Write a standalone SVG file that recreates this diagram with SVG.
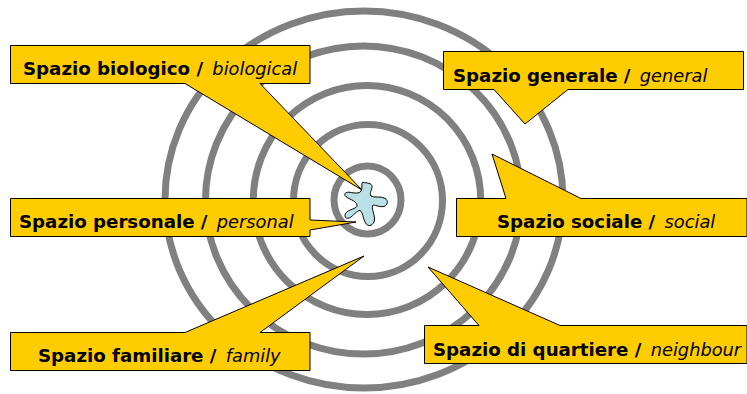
<svg xmlns="http://www.w3.org/2000/svg" width="747" height="394" viewBox="0 0 747 394">
<style>
.ring{fill:none;stroke:#808080;stroke-width:7}
.box{fill:#ffcc00;stroke:#000;stroke-width:1;stroke-linejoin:miter}
text{font-family:"DejaVu Sans",Verdana,sans-serif;font-size:18.2px;fill:#000}
.b{font-weight:bold}
.i{font-style:italic;font-size:17.8px}
</style>
<rect width="747" height="394" fill="#fff"/>
<g id="rings">
<ellipse class="ring" cx="364" cy="199.500" rx="199" ry="188.500"/>
<ellipse class="ring" cx="363.500" cy="200" rx="158" ry="154"/>
<ellipse class="ring" cx="367" cy="200" rx="113.700" ry="114.500"/>
<ellipse class="ring" cx="368" cy="200.500" rx="74.500" ry="76"/>
<ellipse class="ring" cx="367.500" cy="200" rx="33.500" ry="34"/>
</g>
<g id="nucleus"><path d="M362.500 182.300C367 183 372 183 372 186.500C372 190 369 193 371 196C374 198 381 196 385 198.300C388.500 200.500 388 205 384 206.500C379 207.500 374 204 372.500 205.500C371.500 210 376 217 374 222C372 226 368 227 365.500 223C363 219 363 212 360 210.500C357 210.500 353 216 349.500 218C346 219 344 217 345.500 213.500C348 209 358 209 357 205C356 200 347 199 345 195.500C344 192.500 347 192 350 192.300C354 193 359.500 194 361 191C363 187 361 184 362.500 182.300Z" fill="#b9e0e5" stroke="#000" stroke-width="1"/></g>
<g id="spazio-biologico"><path class="box" d="M10.500 45.500H310V83.500H260L362 190L185 83.500H10.500Z"/><text x="23" y="75"><tspan class="b">Spazio biologico / </tspan><tspan class="i" dx="3">biological</tspan></text></g>
<g id="spazio-personale"><path class="box" d="M10.500 198.500H310V220L356 222L310 230V236.500H10.500Z"/><text x="19" y="228"><tspan class="b">Spazio personale / </tspan><tspan class="i" dx="3">personal</tspan></text></g>
<g id="spazio-familiare"><path class="box" d="M10.500 332.500H185L364 256L260 332.500H310V370.500H10.500Z"/><text x="38" y="362"><tspan class="b">Spazio familiare / </tspan><tspan class="i" dx="3">family</tspan></text></g>
<g id="spazio-generale"><path class="box" d="M443.500 51.500H743.500V89.500H568L525 124L494 89.500H443.500Z"/><text x="453" y="82"><tspan class="b">Spazio generale / </tspan><tspan class="i" dx="3">general</tspan></text></g>
<g id="spazio-sociale"><path class="box" d="M456.500 198.500H506L492 154L581 198.500H747V236.500H456.500Z"/><text x="497" y="228"><tspan class="b">Spazio sociale / </tspan><tspan class="i" dx="3">social</tspan></text></g>
<g id="spazio-quartiere"><path class="box" d="M424.500 325.500H479L428 267L560 325.500H747V363.500H424.500Z"/><text x="433" y="356"><tspan class="b">Spazio di quartiere / </tspan><tspan class="i" dx="3">neighbour</tspan></text></g>
</svg>
